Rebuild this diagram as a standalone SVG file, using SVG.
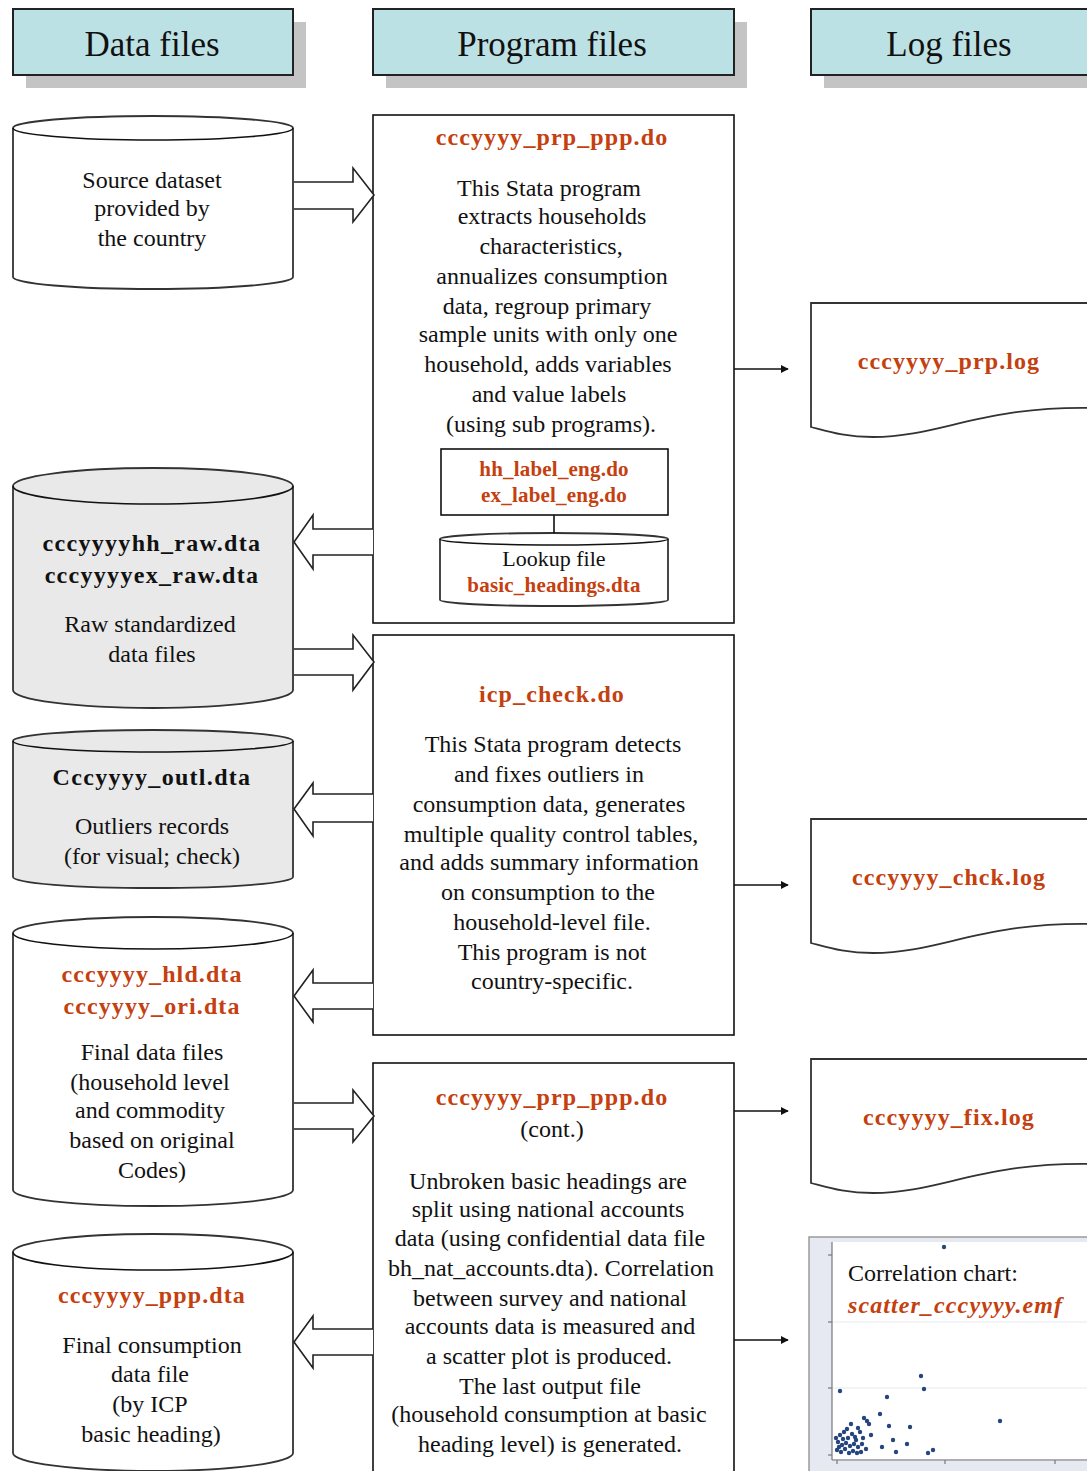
<svg xmlns="http://www.w3.org/2000/svg" width="1087" height="1471" viewBox="0 0 1087 1471">
<defs>
<style>
text{font-family:"Liberation Serif","Times New Roman",serif;text-anchor:middle;fill:#111}
.h{font-size:35px}
.t{font-size:24px}
.r{fill:#c4400f;font-weight:bold;letter-spacing:1.1px}
.s{font-size:21px;letter-spacing:0.2px}
.b{font-weight:bold;letter-spacing:1.3px}
.hdr{fill:#bce1e4;stroke:#222;stroke-width:2}
.sh{fill:#c4c4c4}
.box{fill:#fff;stroke:#111;stroke-width:1.6}
.cyl{fill:#fff;stroke:#333;stroke-width:1.8}
.cylg{fill:#e9e9e9;stroke:#333;stroke-width:1.8}
.ba{fill:#fff;stroke:#222;stroke-width:1.6}
.ln{stroke:#111;stroke-width:1.6;fill:none}
.doc{fill:#fff;stroke:#333;stroke-width:1.8}
.dot{fill:#26457e}
</style>
<marker id="ah" viewBox="0 0 10 10" refX="9" refY="5" markerWidth="8" markerHeight="8" markerUnits="userSpaceOnUse" orient="auto"><path d="M0,0 L10,5 L0,10 Z" fill="#111"/></marker>
</defs>

<g id="hdr-data"><rect class="sh" x="26" y="22" width="280" height="66"/><rect class="hdr" x="13" y="9" width="280" height="66"/><text class="h" x="152" y="56">Data files</text></g>
<g id="hdr-program"><rect class="sh" x="386" y="22" width="361" height="66"/><rect class="hdr" x="373" y="9" width="361" height="66"/><text class="h" x="552" y="56">Program files</text></g>
<g id="hdr-log"><rect class="sh" x="824" y="22" width="280" height="66"/><rect class="hdr" x="811" y="9" width="290" height="66"/><text class="h" x="949" y="56">Log files</text></g>

<g id="cyl-source">
<path class="cyl" d="M13,128 A140,12 0 0 1 293,128 L293,277 A140,12 0 0 1 13,277 Z"/>
<path class="ln" d="M13,128 A140,12 0 0 0 293,128" stroke="#333"/>
<text class="t" x="152" y="188">Source dataset</text>
<text class="t" x="152" y="216">provided by</text>
<text class="t" x="152" y="246">the country</text>
</g>

<g id="prog1">
<rect class="box" x="373" y="115" width="361" height="508"/>
<text class="t r" x="552" y="145">cccyyyy_prp_ppp.do</text>
<text class="t" x="549" y="196">This Stata program</text>
<text class="t" x="552" y="224">extracts households</text>
<text class="t" x="551" y="254">characteristics,</text>
<text class="t" x="552" y="284">annualizes consumption</text>
<text class="t" x="547" y="314">data, regroup primary</text>
<text class="t" x="548" y="342">sample units with only one</text>
<text class="t" x="548" y="372">household, adds variables</text>
<text class="t" x="549" y="402">and value labels</text>
<text class="t" x="551" y="432">(using sub programs).</text>
</g>
<g id="sub-labels">
<rect class="box" x="441" y="449" width="227" height="66"/>
<text class="t r s" x="554" y="476">hh_label_eng.do</text>
<text class="t r s" x="554" y="502">ex_label_eng.do</text>
</g>
<g id="cyl-lookup">
<path class="cyl" d="M440,539 A114,6 0 0 1 668,539 L668,600 A114,6 0 0 1 440,600 Z"/>
<path class="ln" d="M440,539 A114,6 0 0 0 668,539" stroke="#333"/>
<text class="t" x="554" y="566" style="font-size:22px">Lookup file</text>
<text class="t r s" x="554" y="592">basic_headings.dta</text>
</g>

<g id="cyl-raw">
<path class="cylg" d="M13,486 A140,18 0 0 1 293,486 L293,690 A140,18 0 0 1 13,690 Z"/>
<path class="ln" d="M13,486 A140,18 0 0 0 293,486" stroke="#333"/>
<text class="t b" x="152" y="551">cccyyyyhh_raw.dta</text>
<text class="t b" x="152" y="583">cccyyyyex_raw.dta</text>
<text class="t" x="150" y="632">Raw standardized</text>
<text class="t" x="152" y="662">data files</text>
</g>

<g id="prog2">
<rect class="box" x="373" y="635" width="361" height="400"/>
<text class="t r" x="552" y="702">icp_check.do</text>
<text class="t" x="553" y="752">This Stata program detects</text>
<text class="t" x="549" y="782">and fixes outliers in</text>
<text class="t" x="549" y="812">consumption data, generates</text>
<text class="t" x="551" y="842">multiple quality control  tables,</text>
<text class="t" x="549" y="870">and adds summary information</text>
<text class="t" x="548" y="900">on consumption to the</text>
<text class="t" x="552" y="930">household-level file.</text>
<text class="t" x="552" y="960">This program is not</text>
<text class="t" x="552" y="989">country-specific.</text>
</g>

<g id="cyl-outl">
<path class="cylg" d="M13,741 A140,11 0 0 1 293,741 L293,877 A140,11 0 0 1 13,877 Z"/>
<path class="ln" d="M13,741 A140,11 0 0 0 293,741" stroke="#333"/>
<text class="t b" x="152" y="785">Cccyyyy_outl.dta</text>
<text class="t" x="152" y="834">Outliers records</text>
<text class="t" x="152" y="864">(for visual; check)</text>
</g>

<g id="cyl-hld">
<path class="cyl" d="M13,933 A140,16 0 0 1 293,933 L293,1190 A140,16 0 0 1 13,1190 Z"/>
<path class="ln" d="M13,933 A140,16 0 0 0 293,933" stroke="#333"/>
<text class="t r" x="152" y="982">cccyyyy_hld.dta</text>
<text class="t r" x="152" y="1014">cccyyyy_ori.dta</text>
<text class="t" x="152" y="1060">Final data files</text>
<text class="t" x="150" y="1090">(household level</text>
<text class="t" x="150" y="1118">and commodity</text>
<text class="t" x="152" y="1148">based on original</text>
<text class="t" x="152" y="1178">Codes)</text>
</g>

<g id="prog3">
<rect class="box" x="373" y="1063" width="361" height="420"/>
<text class="t r" x="552" y="1105">cccyyyy_prp_ppp.do</text>
<text class="t" x="552" y="1137">(cont.)</text>
<text class="t" x="548" y="1189">Unbroken basic headings are</text>
<text class="t" x="548" y="1217">split using national accounts</text>
<text class="t" x="550" y="1246">data (using confidential data file</text>
<text class="t" x="551" y="1276">bh_nat_accounts.dta). Correlation</text>
<text class="t" x="550" y="1306">between survey and national</text>
<text class="t" x="550" y="1334">accounts data is measured and</text>
<text class="t" x="549" y="1364">a scatter plot is produced.</text>
<text class="t" x="550" y="1394">The last output file</text>
<text class="t" x="549" y="1422">(household consumption at basic</text>
<text class="t" x="550" y="1452">heading level) is generated.</text>
</g>

<g id="cyl-ppp">
<path class="cyl" d="M13,1252 A140,18 0 0 1 293,1252 L293,1453 A140,18 0 0 1 13,1453 Z"/>
<path class="ln" d="M13,1252 A140,18 0 0 0 293,1252" stroke="#333"/>
<text class="t r" x="152" y="1303">cccyyyy_ppp.dta</text>
<text class="t" x="152" y="1353">Final consumption</text>
<text class="t" x="150" y="1382">data file</text>
<text class="t" x="150" y="1412">(by ICP</text>
<text class="t" x="151" y="1442">basic heading)</text>
</g>

<g id="log-prp">
<path class="doc" d="M811,303 H1092 V408 C980,406 940,437 873,437 C845,437 830,432 811,427 Z"/>
<text class="t r" x="949" y="369">cccyyyy_prp.log</text>
</g>
<g id="log-chck">
<path class="doc" d="M811,819 H1092 V924 C980,922 940,953 873,953 C845,953 830,948 811,943 Z"/>
<text class="t r" x="949" y="885">cccyyyy_chck.log</text>
</g>
<g id="log-fix">
<path class="doc" d="M811,1059 H1092 V1164 C980,1162 940,1193 873,1193 C845,1193 830,1188 811,1183 Z"/>
<text class="t r" x="949" y="1125">cccyyyy_fix.log</text>
</g>

<g id="chart">
<rect x="809" y="1237" width="290" height="240" fill="#e6e9f1" stroke="#9a9a9a" stroke-width="1.5"/>
<rect x="832" y="1242" width="260" height="217" fill="#fff"/>
<g stroke="#eef0f5" stroke-width="1.5">
<line x1="832" y1="1322" x2="1087" y2="1322"/>
<line x1="832" y1="1388" x2="1087" y2="1388"/>
</g>
<g stroke="#777" stroke-width="1.2">
<line x1="832" y1="1242" x2="832" y2="1460"/>
<line x1="832" y1="1460" x2="1087" y2="1460"/>
<line x1="828" y1="1255" x2="832" y2="1255"/>
<line x1="828" y1="1322" x2="832" y2="1322"/>
<line x1="828" y1="1388" x2="832" y2="1388"/>
<line x1="828" y1="1455" x2="832" y2="1455"/>
<line x1="837" y1="1460" x2="837" y2="1464"/>
<line x1="945" y1="1460" x2="945" y2="1464"/>
<line x1="1055" y1="1460" x2="1055" y2="1464"/>
</g>
<g class="dot">
<circle cx="944" cy="1247" r="2.2"/><circle cx="921" cy="1376" r="2.2"/><circle cx="924" cy="1389" r="2.2"/>
<circle cx="840" cy="1391" r="2.2"/><circle cx="887" cy="1397" r="2.2"/><circle cx="880" cy="1414" r="2.2"/>
<circle cx="1000" cy="1421" r="2.2"/><circle cx="851" cy="1424" r="2.2"/><circle cx="864" cy="1418" r="2.2"/>
<circle cx="867" cy="1421" r="2.2"/><circle cx="869" cy="1424" r="2.2"/><circle cx="889" cy="1426" r="2.2"/>
<circle cx="910" cy="1427" r="2.2"/><circle cx="858" cy="1428" r="2.2"/><circle cx="871" cy="1435" r="2.2"/>
<circle cx="893" cy="1440" r="2.2"/><circle cx="907" cy="1444" r="2.2"/><circle cx="882" cy="1447" r="2.2"/>
<circle cx="896" cy="1452" r="2.2"/><circle cx="928" cy="1453" r="2.2"/><circle cx="933" cy="1450" r="2.2"/>
<circle cx="840" cy="1435" r="2.2"/><circle cx="844" cy="1432" r="2.2"/><circle cx="848" cy="1438" r="2.2"/>
<circle cx="852" cy="1434" r="2.2"/><circle cx="856" cy="1440" r="2.2"/><circle cx="838" cy="1442" r="2.2"/>
<circle cx="842" cy="1445" r="2.2"/><circle cx="846" cy="1443" r="2.2"/><circle cx="850" cy="1446" r="2.2"/>
<circle cx="854" cy="1444" r="2.2"/><circle cx="858" cy="1447" r="2.2"/><circle cx="862" cy="1444" r="2.2"/>
<circle cx="866" cy="1449" r="2.2"/><circle cx="837" cy="1450" r="2.2"/><circle cx="841" cy="1452" r="2.2"/>
<circle cx="845" cy="1449" r="2.2"/><circle cx="849" cy="1453" r="2.2"/><circle cx="853" cy="1451" r="2.2"/>
<circle cx="857" cy="1453" r="2.2"/><circle cx="861" cy="1452" r="2.2"/><circle cx="839" cy="1447" r="2.2"/>
<circle cx="843" cy="1439" r="2.2"/><circle cx="847" cy="1429" r="2.2"/><circle cx="855" cy="1437" r="2.2"/>
<circle cx="860" cy="1432" r="2.2"/><circle cx="836" cy="1438" r="2.2"/><circle cx="863" cy="1438" r="2.2"/>
</g>
<text class="t" x="848" y="1281" style="text-anchor:start">Correlation chart:</text>
<text class="t r" x="848" y="1313" style="text-anchor:start;font-style:italic">scatter_cccyyyy.emf</text>
</g>

<g id="connectors">
<path class="ba" d="M294,182 H353 V168 L374,195 L353,222 V209 H294"/>
<path class="ba" d="M373,529 H313 V515 L294,542 L313,569 V555 H373"/>
<path class="ba" d="M294,649 H353 V635 L374,662 L353,690 V675 H294"/>
<path class="ba" d="M373,794 H313 V783 L294,809 L313,836 V822 H373"/>
<path class="ba" d="M373,983 H313 V970 L294,996 L313,1022 V1009 H373"/>
<path class="ba" d="M294,1103 H353 V1090 L374,1116 L353,1142 V1129 H294"/>
<path class="ba" d="M373,1329 H313 V1316 L294,1342 L313,1368 V1355 H373"/>
<line class="ln" x1="554" y1="515" x2="554" y2="533"/>
<line class="ln" x1="734" y1="369" x2="788" y2="369" marker-end="url(#ah)"/>
<line class="ln" x1="734" y1="885" x2="788" y2="885" marker-end="url(#ah)"/>
<line class="ln" x1="734" y1="1111" x2="788" y2="1111" marker-end="url(#ah)"/>
<line class="ln" x1="734" y1="1340" x2="788" y2="1340" marker-end="url(#ah)"/>
</g>
</svg>
